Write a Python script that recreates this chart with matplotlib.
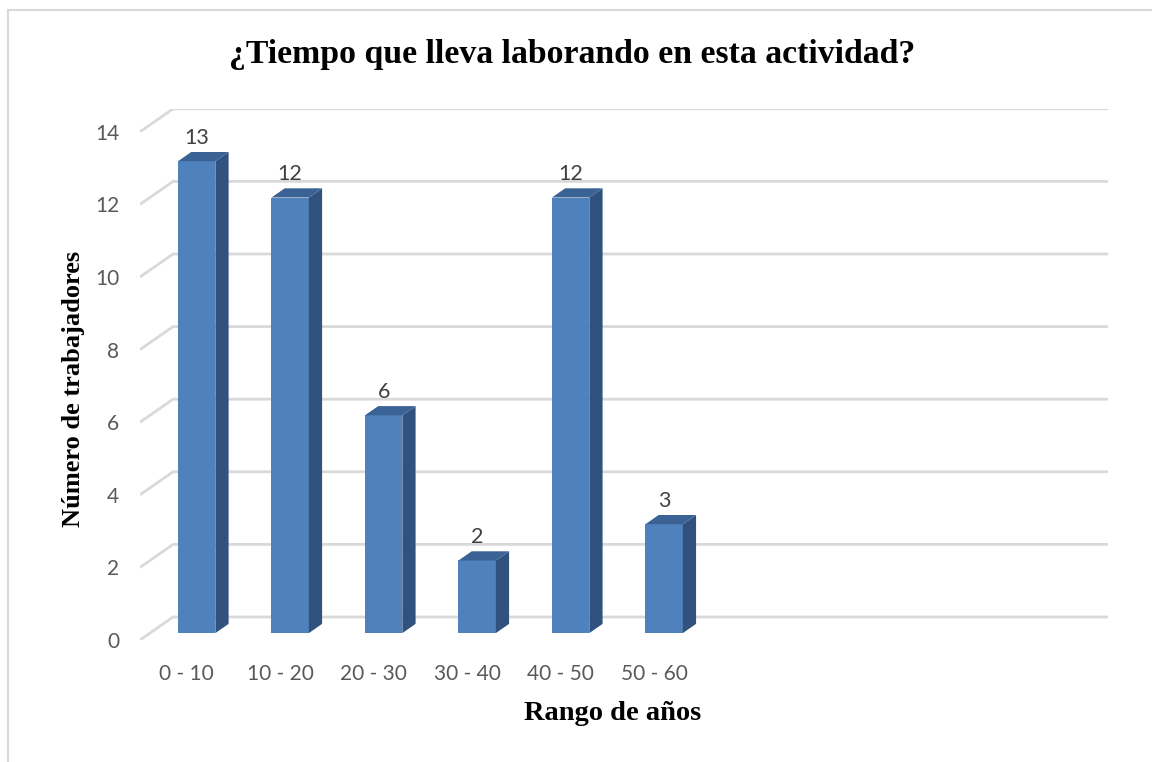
import matplotlib.pyplot as plt
from matplotlib.patches import Polygon
from matplotlib.lines import Line2D

# data
categories = ["0 - 10", "10 - 20", "20 - 30", "30 - 40", "40 - 50", "50 - 60"]
workers = [13, 12, 6, 2, 12, 3]
n_slots = 10          # the category axis has room for 10 columns, only 6 used
y_ticks = [0, 2, 4, 6, 8, 10, 12, 14]

# fake 3D depth (in data units) of the floor / back wall
DX = 0.354
DY = 0.634
bar_w = 0.4
front, back = 0.3, 0.7   # bar depth position between front and back plane

c_front = "#4F81BD"
c_side = "#31527E"
c_top = "#3B6294"
c_grid = "#D9D9D9"
c_text = "#595959"

fig = plt.figure(figsize=(11.52, 7.62), dpi=100)
ax = fig.add_axes([140 / 1152, 122 / 762, 968 / 1152, 531.2 / 762])
ax.set_xlim(0, n_slots + DX)
ax.set_ylim(0, y_ticks[-1] + DY)
for s in ax.spines.values():
    s.set_visible(False)

# gridlines on the back wall plus the slanted floor/side lines
for v in y_ticks:
    ax.plot([0, DX, n_slots + DX], [v, v + DY, v + DY], color=c_grid, lw=2, zorder=1,
            solid_capstyle="butt")

# bars: front face via ax.bar, side and top faces as polygons
centers = [i + 0.5 for i in range(len(workers))]
x_front = [c + front * DX for c in centers]
ax.bar(x_front, workers, width=bar_w, bottom=front * DY, color=c_front, zorder=3)
d = back - front
for xc, v in zip(x_front, workers):
    x0, x1 = xc - bar_w / 2, xc + bar_w / 2
    b = front * DY
    t = v + front * DY
    side = Polygon([(x1, b), (x1 + d * DX, b + d * DY), (x1 + d * DX, t + d * DY), (x1, t)],
                   closed=True, facecolor=c_side, edgecolor="none", zorder=3)
    top = Polygon([(x0, t), (x1, t), (x1 + d * DX, t + d * DY), (x0 + d * DX, t + d * DY)],
                  closed=True, facecolor=c_top, edgecolor="none", zorder=3)
    ax.add_patch(side)
    ax.add_patch(top)
    ax.annotate(str(v), (xc, v + back * DY), xytext=(0, 6), textcoords="offset points",
                ha="center", va="baseline", fontsize=15.5, color="#404040", family="Lato")

ax.set_yticks(y_ticks)
ax.set_yticklabels([str(t) for t in y_ticks], fontsize=15, color=c_text, family="Lato")
ax.set_xticks(centers)
ax.set_xticklabels(categories, fontsize=15, color=c_text, family="Lato")
ax.tick_params(axis="y", length=0, pad=15)
ax.tick_params(axis="x", length=0, pad=17)

fig.text(0.497, 0.928, "¿Tiempo que lleva laborando en esta actividad?", ha="center", va="center",
         fontsize=24.3, fontweight="bold", family="Liberation Serif")
fig.text(0.532, 0.064, "Rango de años", ha="center", va="center",
         fontsize=20.5, fontweight="bold", family="Liberation Serif")
fig.text(0.064, 0.4895, "Número de trabajadores", ha="center", va="center", rotation=90,
         fontsize=19, fontweight="bold", family="Liberation Serif")

# outer chart border (left and top only visible)
fig.add_artist(Line2D([7.5 / 1152, 7.5 / 1152], [0, 752 / 762], color=c_grid, lw=1.5))
fig.add_artist(Line2D([7.5 / 1152, 1], [752 / 762, 752 / 762], color=c_grid, lw=1.5))

fig.savefig("out.png", dpi=100)
